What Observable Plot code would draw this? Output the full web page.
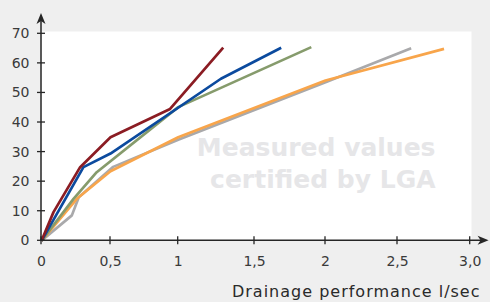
<!DOCTYPE html>
<html>
<head>
<meta charset="utf-8">
<script src="https://cdn.jsdelivr.net/npm/d3@7"></script>
<script src="https://cdn.jsdelivr.net/npm/@observablehq/plot@0.6"></script>
<style>
  html, body { margin: 0; padding: 0; background: #efefef; }
  #chart svg { display: block; }
</style>
</head>
<body>
<div id="chart"></div>
<script>
// ---- data ----
const xTicks = [0, 0.5, 1, 1.5, 2, 2.5, 3];
const xTickLabels = ["0", "0,5", "1", "1,5", "2", "2,5", "3,0"];
const yTicks = [0, 10, 20, 30, 40, 50, 60, 70];
const xLabel = "Drainage performance l/sec";
const watermark = "Measured values\ncertified by LGA";

const seriesNames = ["S1", "S2", "S3", "S4", "S5"];
const seriesColors = ["#a9a9ab", "#f8a54b", "#869b6c", "#0b4a9e", "#8b1c23"];
const s1X = [0, 0.22, 0.27, 0.52, 1.0, 2.0, 2.594];
const s1Y = [0, 8.6, 14.7, 25, 34.2, 53.6, 65.1];
const s2X = [0, 0.256, 0.5, 1.0, 2.0, 2.82];
const s2Y = [0, 14.2, 23.5, 35, 54.2, 64.9];
const s3X = [0, 0.232, 0.40, 1.0, 1.9];
const s3Y = [0, 14.2, 23.2, 45.2, 65.5];
const s4X = [0, 0.304, 0.5, 1.28, 1.688];
const s4Y = [0, 24.9, 29.5, 54.8, 65.3];
const s5X = [0, 0.087, 0.28, 0.5, 0.94, 1.295];
const s5Y = [0, 9.7, 24.9, 35, 44.6, 65.3];

// axis arrow extents (data units)
const xAxisEnd = 3.13;
const yAxisEnd = 76.9;

const seriesXs = [s1X, s2X, s3X, s4X, s5X];
const seriesYs = [s1Y, s2Y, s3Y, s4Y, s5Y];
const rows = seriesNames.flatMap((s, k) =>
  seriesXs[k].map((x, i) => ({series: s, x, y: seriesYs[k][i]})));

// ---- custom axis lines, crossing ticks and filled arrowheads ----
function axesMark(index, scales, values, dimensions, context) {
  const sx = scales.x, sy = scales.y;
  const g = d3.create("svg:g");
  const x0 = sx(0), y0 = sy(0);
  const xt = sx(xAxisEnd), yt = sy(yAxisEnd);
  const ink = "#262626";
  g.append("line").attr("x1", x0).attr("x2", x0).attr("y1", y0).attr("y2", yt + 6)
    .attr("stroke", ink).attr("stroke-width", 1.5);
  g.append("line").attr("x1", x0).attr("x2", xt - 6).attr("y1", y0).attr("y2", y0)
    .attr("stroke", ink).attr("stroke-width", 1.5);
  for (const t of yTicks) {
    const y = sy(t);
    g.append("line").attr("x1", x0 - 4).attr("x2", x0 + 4).attr("y1", y).attr("y2", y)
      .attr("stroke", ink).attr("stroke-width", 1.3);
  }
  for (const t of xTicks) {
    const x = sx(t);
    g.append("line").attr("x1", x).attr("x2", x).attr("y1", y0 - 4).attr("y2", y0 + 4)
      .attr("stroke", ink).attr("stroke-width", 1.3);
  }
  g.append("path")
    .attr("d", `M${x0},${yt}L${x0 + 4.5},${yt + 11}L${x0},${yt + 8}L${x0 - 4.5},${yt + 11}Z`)
    .attr("fill", ink);
  g.append("path")
    .attr("d", `M${xt},${y0}L${xt - 11},${y0 - 4.5}L${xt - 8},${y0}L${xt - 11},${y0 + 4.5}Z`)
    .attr("fill", ink);
  return g.node();
}

const font = "DejaVu Sans, sans-serif";

const plot = Plot.plot({
  width: 490,
  height: 302,
  marginLeft: 41,
  marginRight: 19,
  marginTop: 31,
  marginBottom: 62,
  style: {background: "#efefef", fontFamily: font, overflow: "visible"},
  x: {type: "linear", domain: xTicks, range: [41, 110, 177.7, 254, 325, 397, 469.7], axis: null},
  y: {domain: [0, 70], range: [240.3, 33.3], axis: null},
  color: {type: "ordinal", domain: seriesNames, range: seriesColors},
  marks: [
    Plot.frame({fill: "white", stroke: null}),
    Plot.text([watermark], {
      text: d => d, frameAnchor: "right", textAnchor: "end", lineAnchor: "middle",
      dx: -36, dy: 26, fontSize: 25, fontWeight: "bold", fill: "#e6e6e8", lineHeight: 1.28
    }),
    Plot.line(rows, {
      x: "x", y: "y", z: "series", stroke: "series",
      strokeWidth: 2.7, strokeLinejoin: "miter", strokeLinecap: "butt"
    }),
    axesMark,
    Plot.text(yTicks, {
      y: d => d, text: d => String(d), frameAnchor: "left", textAnchor: "end",
      dx: -12, fontSize: 14, fill: "#3a3a3a"
    }),
    Plot.text(xTicks, {
      x: d => d, text: (d, i) => xTickLabels[i], frameAnchor: "bottom",
      lineAnchor: "top", dy: 16, fontSize: 14, fill: "#3a3a3a"
    }),
    Plot.text([xLabel], {
      text: d => d, frameAnchor: "bottom-right", textAnchor: "end",
      lineAnchor: "middle", dx: 9, dy: 51, fontSize: 16, fill: "#2a2a2a"
    })
  ]
});

d3.select(plot).selectAll("text")
  .filter(function () { return this.textContent === xLabel; })
  .style("letter-spacing", "1px");

document.getElementById("chart").appendChild(plot);
</script>
</body>
</html>
